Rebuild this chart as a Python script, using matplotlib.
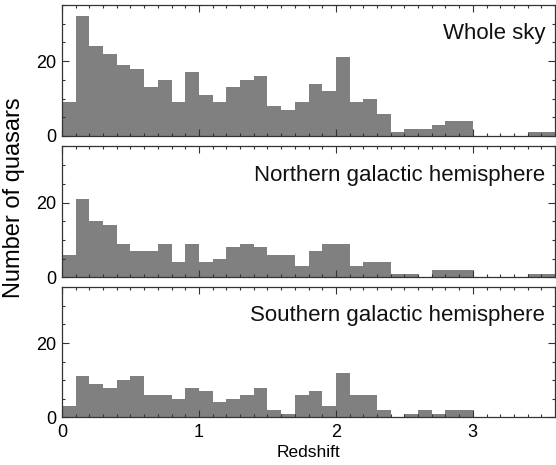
import numpy as np
import matplotlib
matplotlib.use('Agg')
import matplotlib.pyplot as plt
from matplotlib.ticker import MultipleLocator

plt.rcParams['font.family'] = ['Liberation Sans', 'DejaVu Sans']

# redshift bins, width 0.1 from 0 to 3.6
bin_edges = np.round(np.arange(0, 3.61, 0.1), 2)
whole_sky = [9, 32, 24, 22, 19, 18, 13, 15, 9, 17, 11, 9, 13, 15, 16, 8, 7, 9,
             14, 12, 21, 9, 10, 6, 1, 2, 2, 3, 4, 4, 0, 0, 0, 0, 1, 1]
northern = [6, 21, 15, 14, 9, 7, 7, 9, 4, 9, 4, 5, 8, 9, 8, 6, 6, 3,
            7, 9, 9, 3, 4, 4, 1, 1, 0, 2, 2, 2, 0, 0, 0, 0, 1, 1]
southern = [3, 11, 9, 8, 10, 11, 6, 6, 5, 8, 7, 4, 5, 6, 8, 2, 1, 6,
            7, 3, 12, 6, 6, 2, 0, 1, 2, 1, 2, 2, 0, 0, 0, 0, 0, 0]
titles = ['Whole sky', 'Northern galactic hemisphere', 'Southern galactic hemisphere']

fig = plt.figure(figsize=(5.56, 4.65), dpi=100)
W, H = 556.0, 465.0
left, right = 62 / W, 555 / W
panels = [(5, 136), (146.5, 277.3), (287.3, 417.3)]

for i, (counts, title) in enumerate(zip([whole_sky, northern, southern], titles)):
    top, bot = panels[i]
    ax = fig.add_axes([left, 1 - bot / H, right - left, (bot - top) / H])
    ax.stairs(counts, bin_edges, fill=True, color='#808080', linewidth=0)
    ax.set_xlim(0, 3.6)
    ax.set_ylim(0, 35)
    ax.xaxis.set_major_locator(MultipleLocator(1))
    ax.xaxis.set_minor_locator(MultipleLocator(0.1))
    ax.yaxis.set_major_locator(MultipleLocator(20))
    ax.yaxis.set_minor_locator(MultipleLocator(5))
    ax.tick_params(which='both', direction='in', top=True, right=True,
                   color='#333333', labelsize=13)
    ax.tick_params(axis='y', pad=4)
    ax.tick_params(axis='x', pad=5)
    ax.tick_params(which='major', length=5, width=0.8)
    ax.tick_params(which='minor', length=2.5, width=0.8)
    for s in ax.spines.values():
        s.set_color('#333333')
        s.set_linewidth(0.9)
    if i < 2:
        ax.tick_params(labelbottom=False)
    ax.text(0.98, 0.78, title, transform=ax.transAxes, ha='right', va='center',
            fontsize=16, color='#111111')
    if i == 2:
        ax.set_xlabel('Redshift', fontsize=12.5, labelpad=3)

fig.text(0.026, 1 - 198 / H, 'Number of quasars', rotation=90,
         ha='center', va='center', fontsize=17)

fig.savefig('out.png', dpi=100)
